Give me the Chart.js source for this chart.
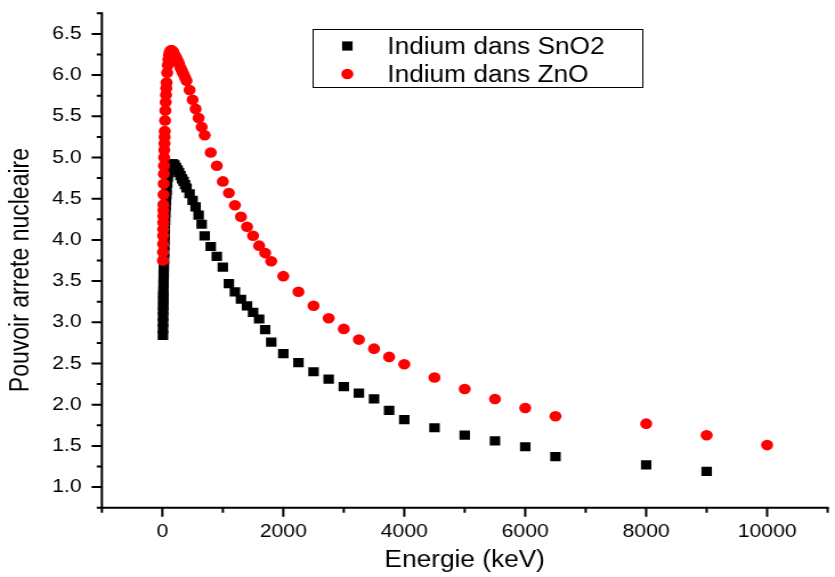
<!DOCTYPE html>
<html lang="fr">
<head>
<meta charset="utf-8">
<title>Pouvoir d'arrêt nucléaire de l'indium</title>
<script src="https://cdn.jsdelivr.net/npm/chart.js@4/dist/chart.umd.min.js"></script>
<style>
    html, body { margin: 0; padding: 0; background: #fff; overflow: hidden; }
    #graphe { display: block; }
</style>
</head>
<body>
<!-- dessiné à 732 px de large puis étiré à 835 px (rendu "Origin" élargi) -->
<canvas id="graphe" width="732" height="577" style="width:835px;height:577px"></canvas>
<script>
// ==========================================
// Pouvoir d'arrêt nucléaire de l'indium dans SnO2 et ZnO
// ==========================================

// Énergies (keV) et pouvoir d'arrêt pour l'indium dans SnO2
const energieSnO2 = [
    10, 11, 12, 13, 14, 15, 16, 17, 18,
    20, 22.5, 25, 27.5, 30, 32.5, 35, 37.5, 40,
    45, 50, 55, 60, 65, 70, 80, 90, 100,
    110, 120, 130, 140, 150, 160, 170, 180,
    200, 225, 250, 275, 300, 325, 350, 375, 400,
    450, 500, 550, 600, 650, 700, 800, 900, 1000,
    1100, 1200, 1300, 1400, 1500, 1600, 1700, 1800,
    2000, 2250, 2500, 2750, 3000, 3250, 3500, 3750, 4000,
    4500, 5000, 5500, 6000, 6500, 8000, 9000
];
const pouvoirSnO2 = [
    2.84, 2.92, 3.00, 3.07, 3.14, 3.20, 3.26, 3.32, 3.37,
    3.47, 3.58, 3.68, 3.77, 3.85, 3.93, 4.00, 4.06, 4.12,
    4.23, 4.33, 4.41, 4.48, 4.55, 4.60, 4.69, 4.76, 4.81,
    4.85, 4.88, 4.90, 4.91, 4.92, 4.92, 4.92, 4.92,
    4.91, 4.88, 4.85, 4.82, 4.78, 4.74, 4.71, 4.67, 4.63,
    4.56, 4.48, 4.40, 4.30, 4.19, 4.05, 3.92, 3.80, 3.67,
    3.47, 3.37, 3.28, 3.20, 3.12, 3.04, 2.91, 2.76,
    2.62, 2.51, 2.40, 2.31, 2.22, 2.14, 2.07, 1.93, 1.82,
    1.72, 1.63, 1.56, 1.49, 1.37, 1.27, 1.19
];

// Énergies (keV) et pouvoir d'arrêt pour l'indium dans ZnO
const energieZnO = [
    10, 11, 12, 13, 14, 15, 16, 17, 18,
    20, 22.5, 25, 27.5, 30, 32.5, 35, 37.5, 40,
    45, 50, 55, 60, 65, 70, 80, 90, 100,
    110, 120, 130, 140, 150, 160, 170, 180,
    200, 225, 250, 275, 300, 325, 350, 375, 400,
    450, 500, 550, 600, 650, 700, 800, 900, 1000,
    1100, 1200, 1300, 1400, 1500, 1600, 1700, 1800,
    2000, 2250, 2500, 2750, 3000, 3250, 3500, 3750, 4000,
    4500, 5000, 5500, 6000, 6500, 8000, 9000, 10000
];
const pouvoirZnO = [
    3.75, 3.85, 3.95, 4.05, 4.13, 4.21, 4.29, 4.36, 4.43,
    4.55, 4.68, 4.80, 4.90, 5.00, 5.09, 5.17, 5.25, 5.32,
    5.45, 5.57, 5.67, 5.76, 5.84, 5.91, 6.03, 6.12, 6.19,
    6.24, 6.27, 6.29, 6.30, 6.30, 6.30, 6.29, 6.28,
    6.25, 6.22, 6.18, 6.14, 6.09, 6.05, 6.01, 5.97, 5.93,
    5.82, 5.70, 5.59, 5.48, 5.37, 5.27, 5.06, 4.90, 4.71,
    4.57, 4.42, 4.28, 4.16, 4.05, 3.93, 3.84, 3.74,
    3.56, 3.37, 3.20, 3.05, 2.92, 2.79, 2.68, 2.58, 2.49,
    2.33, 2.19, 2.07, 1.96, 1.86, 1.77, 1.63, 1.51
];

// Graduations principales (avec étiquette) ; les autres sont secondaires
const graduationsX = [0, 2000, 4000, 6000, 8000, 10000];
const graduationsY = [1.0, 1.5, 2.0, 2.5, 3.0, 3.5, 4.0, 4.5, 5.0, 5.5, 6.0, 6.5];

const POLICE = "'Liberation Sans', Arial, Helvetica, sans-serif";
const NOIR = '#000000';
const ROUGE = '#ff0000';

const estGraduationX = (v) => graduationsX.includes(v);
const estGraduationY = (v) => graduationsY.some(g => Math.abs(g - v) < 1e-9);

// Axes à la Origin : seulement gauche et bas, graduations vers l'extérieur,
// grandes pour les valeurs étiquetées, petites pour les autres.
const axesOrigin = {
    id: 'axesOrigin',
    beforeDatasetsDraw(chart) {
        const { ctx, chartArea: a, scales: { x, y } } = chart;
        ctx.save();
        ctx.strokeStyle = NOIR;
        ctx.lineWidth = 2;
        ctx.lineCap = 'square';
        ctx.beginPath();
        ctx.moveTo(a.left, a.top);
        ctx.lineTo(a.left, a.bottom);
        ctx.lineTo(a.right, a.bottom);
        ctx.stroke();

        ctx.lineCap = 'butt';
        ctx.beginPath();
        x.ticks.forEach(t => {
            const px = x.getPixelForValue(t.value);
            const long = estGraduationX(t.value) ? 9 : 5;
            ctx.moveTo(px, a.bottom);
            ctx.lineTo(px, a.bottom + long);
        });
        y.ticks.forEach(t => {
            const py = y.getPixelForValue(t.value);
            const long = estGraduationY(t.value) ? 9 : 4.5;
            ctx.moveTo(a.left, py);
            ctx.lineTo(a.left - long, py);
        });
        ctx.stroke();
        ctx.restore();
    }
};

// Légende encadrée, posée dans la zone du graphique
const legendeEncadree = {
    id: 'legendeEncadree',
    afterDatasetsDraw(chart) {
        const { ctx } = chart;
        ctx.save();
        ctx.strokeStyle = NOIR;
        ctx.lineWidth = 1;
        ctx.strokeRect(274.5, 29.5, 289, 58);

        ctx.font = `23px ${POLICE}`;
        ctx.textBaseline = 'alphabetic';
        ctx.textAlign = 'left';
        chart.data.datasets.forEach((ds, i) => {
            const yc = 46 + i * 28;
            const xc = 304.5;
            ctx.fillStyle = ds.pointBackgroundColor;
            ctx.beginPath();
            if (ds.pointStyle === 'rect') {
                const demi = Math.SQRT1_2 * ds.pointRadius;
                ctx.rect(xc - demi, yc - demi, 2 * demi, 2 * demi);
            } else {
                ctx.arc(xc, yc, ds.pointRadius, 0, Math.PI * 2);
            }
            ctx.fill();
            ctx.fillStyle = NOIR;
            ctx.fillText(ds.label, 339.5, yc + 7.5);
        });
        ctx.restore();
    }
};

const points = (xs, ys) => xs.map((e, i) => ({ x: e, y: ys[i] }));

const ctx = document.getElementById('graphe').getContext('2d');
new Chart(ctx, {
    type: 'scatter',
    data: {
        datasets: [
            {
                label: 'Indium dans SnO2',
                data: points(energieSnO2, pouvoirSnO2),
                pointStyle: 'rect',
                pointRadius: 6.5,
                pointHoverRadius: 6.5,
                pointBackgroundColor: NOIR,
                pointBorderWidth: 0,
                order: 1
            },
            {
                label: 'Indium dans ZnO',
                data: points(energieZnO, pouvoirZnO),
                pointStyle: 'circle',
                pointRadius: 5.3,
                pointHoverRadius: 5.3,
                pointBackgroundColor: ROUGE,
                pointBorderWidth: 0,
                order: 0
            }
        ]
    },
    options: {
        responsive: false,
        devicePixelRatio: 1,
        animation: false,
        events: [],
        layout: { padding: { left: 0, right: 3.1, top: 13.3, bottom: 0 } },
        plugins: {
            legend: { display: false },
            tooltip: { enabled: false }
        },
        scales: {
            x: {
                type: 'linear',
                min: -1000,
                max: 11000,
                grid: { display: false, drawTicks: false },
                border: { display: false },
                ticks: {
                    stepSize: 1000,
                    autoSkip: false,
                    maxRotation: 0,
                    padding: 13,
                    color: NOIR,
                    font: { family: POLICE, size: 18.6 },
                    callback: (v) => estGraduationX(v) ? String(v) : ''
                },
                title: {
                    display: true,
                    text: 'Energie (keV)',
                    color: NOIR,
                    font: { family: POLICE, size: 23 },
                    padding: { top: 0, bottom: 2.2 }
                },
                afterFit: (s) => {
                    s.height = 69.3;
                    s.paddingLeft = 0;
                    s.paddingRight = 0;
                }
            },
            y: {
                type: 'linear',
                min: 0.75,
                max: 6.75,
                grid: { display: false, drawTicks: false },
                border: { display: false },
                ticks: {
                    stepSize: 0.25,
                    autoSkip: false,
                    padding: 17.7,
                    color: NOIR,
                    font: { family: POLICE, size: 18.6 },
                    callback: (v) => estGraduationY(v) ? v.toFixed(1) : ''
                },
                title: {
                    display: true,
                    text: 'Pouvoir arrete nucleaire   ',
                    color: NOIR,
                    font: { family: POLICE, size: 23 },
                    padding: { top: 4.6, bottom: 0 }
                },
                afterFit: (s) => {
                    s.width = 89.3;
                    s.paddingTop = 0;
                    s.paddingBottom = 0;
                }
            }
        }
    },
    plugins: [axesOrigin, legendeEncadree]
});
</script>
</body>
</html>
